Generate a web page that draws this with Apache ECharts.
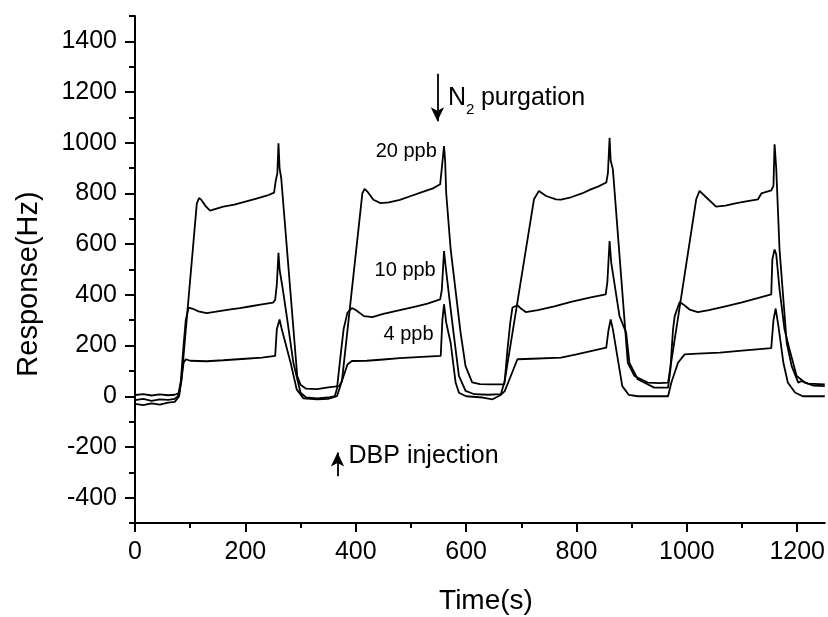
<!DOCTYPE html>
<html>
<head>
<meta charset="utf-8">
<script src="https://cdn.jsdelivr.net/npm/echarts@6/dist/echarts.min.js"></script>
<style>
html,body{margin:0;padding:0;background:#fff;}
#chart{width:828px;height:617px;}
</style>
</head>
<body>
<div id="chart"></div>
<script>
// ---- data (time s, response Hz) ----
const ppb20 = [[0,5],[15,8],[30,3],[45,7],[60,4],[72,6],[80,12],[84,60],[112,760],[116,782],[120,775],[128,750],[136,732],[145,738],[160,748],[180,756],[200,768],[220,780],[240,792],[252,803],[255,850],[258,880],[260,998],[262,900],[265,860],[294,80],[300,45],[310,30],[330,28],[350,35],[370,40],[375,60],[412,800],[416,818],[422,805],[432,775],[445,762],[460,765],[480,775],[500,790],[520,805],[540,820],[553,836],[556,900],[560,987],[562,930],[564,800],[572,580],[590,251],[599,119],[611,55],[625,48],[645,47],[669,47],[723,777],[732,810],[745,790],[763,777],[772,776],[790,785],[810,800],[826,816],[840,828],[854,843],[857,880],[860,1020],[862,930],[866,895],[893,132],[905,80],[929,54],[950,52],[966,54],[1017,777],[1023,810],[1035,785],[1053,748],[1070,752],[1090,762],[1110,770],[1129,777],[1135,800],[1153,812],[1157,830],[1159,994],[1162,900],[1168,579],[1181,211],[1190,119],[1202,54],[1208,60],[1220,50],[1250,47]];
const ppb10 = [[0,-15],[15,-10],[30,-18],[45,-12],[60,-14],[72,-10],[78,0],[83,60],[88,200],[92,300],[97,350],[105,345],[115,335],[130,328],[150,335],[170,342],[190,348],[210,355],[230,362],[250,369],[254,380],[257,440],[260,566],[262,500],[268,420],[275,316],[287,132],[300,14],[310,-5],[330,-8],[350,-5],[362,0],[366,30],[372,150],[378,264],[385,330],[393,348],[400,340],[415,316],[430,312],[450,325],[470,335],[490,345],[510,355],[530,365],[553,382],[556,420],[560,573],[563,510],[570,380],[578,237],[587,80],[599,21],[615,8],[640,6],[663,8],[670,60],[675,185],[680,290],[684,350],[693,359],[700,345],[708,332],[730,340],[760,355],[790,372],[826,390],[853,402],[856,450],[860,612],[863,527],[878,316],[890,251],[896,132],[911,67],[941,34],[966,34],[970,100],[975,264],[978,316],[987,372],[995,360],[1005,342],[1020,332],[1040,340],[1070,355],[1100,370],[1130,388],[1153,402],[1155,540],[1159,579],[1162,560],[1168,422],[1177,264],[1186,185],[1199,80],[1214,54],[1230,42],[1250,40]];
const ppb4 = [[0,-30],[15,-35],[30,-28],[45,-33],[60,-25],[72,-22],[80,0],[85,80],[88,132],[92,146],[100,140],[130,138],[160,142],[200,148],[230,152],[254,159],[257,264],[262,303],[266,264],[282,132],[293,27],[305,-8],[330,-12],[350,-10],[366,0],[375,60],[385,125],[393,139],[420,140],[450,145],[480,150],[520,155],[554,159],[557,300],[560,363],[564,290],[572,211],[581,54],[587,14],[600,0],[630,-5],[648,-12],[663,5],[670,20],[681,80],[693,146],[720,148],[772,152],[800,165],[830,180],[854,192],[858,260],[862,303],[866,264],[878,106],[883,40],[895,5],[911,0],[940,0],[966,0],[972,54],[984,132],[996,165],[1020,168],[1060,172],[1100,180],[1153,190],[1157,300],[1161,346],[1166,277],[1175,132],[1183,54],[1196,15],[1210,0],[1250,0]];

const xMajorTicks = [0,200,400,600,800,1000,1200];
const xMinorTicks = [100,300,500,700,900,1100];
const yMajorTicks = [-400,-200,0,200,400,600,800,1000,1200,1400];
const yMinorTicks = [-500,-300,-100,100,300,500,700,900,1100,1300,1500];

// annotation anchors in data coordinates
const seriesLabels = ['20 ppb','10 ppb','4 ppb'];
const seriesLabelAt = [[547,966],[545,497],[541,244]];
const purgeArrow = [[548,1272],[548,1085]];
const injectArrow = [[367,-316],[367,-222]];
const purgeTextAt = [567,1175];
const injectTextAt = [387,-237];

const FONT = '"Liberation Sans", Arial, sans-serif';
const chart = echarts.init(document.getElementById('chart'), null, {renderer:'canvas'});

const axisLineStyle = {lineStyle:{color:'#000', width:2}};
const plain = v => String(v);
function lineSeries(name, data){
  return {name, type:'line', data, showSymbol:false, symbol:'none', smooth:false,
    lineStyle:{color:'#000', width:1.8}, animation:false, z:3};
}

const s20 = lineSeries('20 ppb', ppb20);
s20.markLine = {
  silent:true, animation:false, symbol:['none','arrow'], symbolSize:[10,14],
  label:{show:false}, lineStyle:{color:'#000', width:1.8, type:'solid'},
  data:[
    [{coord:purgeArrow[0]},{coord:purgeArrow[1]}],
    [{coord:injectArrow[0]},{coord:injectArrow[1]}]
  ]
};

chart.setOption({
  backgroundColor:'#fff',
  animation:false,
  grid:{left:135, right:3, top:16, bottom:94, containLabel:false},
  xAxis:[
    {type:'value', min:0, max:1250, position:'bottom',
      axisLine:{show:true, onZero:false, ...axisLineStyle},
      axisTick:{show:true, inside:false, length:9, customValues:xMajorTicks, lineStyle:{color:'#000', width:2}},
      axisLabel:{show:true, customValues:xMajorTicks, formatter:plain, margin:17, color:'#000', fontSize:25, fontFamily:FONT},
      splitLine:{show:false}},
    {type:'value', min:0, max:1250, position:'bottom', gridIndex:0,
      axisLine:{show:false, onZero:false},
      axisTick:{show:true, inside:false, length:5, customValues:xMinorTicks, lineStyle:{color:'#000', width:2}},
      axisLabel:{show:false}, splitLine:{show:false}}
  ],
  yAxis:[
    {type:'value', min:-500, max:1500, position:'left',
      axisLine:{show:true, onZero:false, ...axisLineStyle},
      axisTick:{show:true, inside:false, length:10, customValues:yMajorTicks, lineStyle:{color:'#000', width:2}},
      axisLabel:{show:true, customValues:yMajorTicks, formatter:plain, margin:18, color:'#000', fontSize:25, fontFamily:FONT},
      splitLine:{show:false}},
    {type:'value', min:-500, max:1500, position:'left', gridIndex:0,
      axisLine:{show:false, onZero:false},
      axisTick:{show:true, inside:false, length:6, customValues:yMinorTicks, lineStyle:{color:'#000', width:2}},
      axisLabel:{show:false}, splitLine:{show:false}}
  ],
  series:[s20, lineSeries('10 ppb', ppb10), lineSeries('4 ppb', ppb4)]
});

function px(pt){ return chart.convertToPixel({xAxisIndex:0, yAxisIndex:0}, pt); }

const graphics = [];
seriesLabels.forEach((t,i)=>{
  const p = px(seriesLabelAt[i]);
  graphics.push({type:'text', x:p[0], y:p[1], silent:true,
    style:{text:t, fill:'#000', font:'20px '+FONT, textAlign:'right', textVerticalAlign:'middle'}});
});
const pp = px(purgeTextAt);
graphics.push({type:'text', x:pp[0], y:pp[1], silent:true,
  style:{text:'N', fill:'#000', font:'25px '+FONT, textAlign:'left', textVerticalAlign:'middle'}});
graphics.push({type:'text', x:pp[0]+18, y:pp[1]+11, silent:true,
  style:{text:'2', fill:'#000', font:'15px '+FONT, textAlign:'left', textVerticalAlign:'middle'}});
graphics.push({type:'text', x:pp[0]+33, y:pp[1], silent:true,
  style:{text:'purgation', fill:'#000', font:'25px '+FONT, textAlign:'left', textVerticalAlign:'middle'}});
const ip = px(injectTextAt);
graphics.push({type:'text', x:ip[0], y:ip[1], silent:true,
  style:{text:'DBP injection', fill:'#000', font:'25px '+FONT, textAlign:'left', textVerticalAlign:'middle'}});
// axis titles
graphics.push({type:'text', x:486, y:601, silent:true,
  style:{text:'Time(s)', fill:'#000', font:'28px '+FONT, textAlign:'center', textVerticalAlign:'middle'}});
graphics.push({type:'text', x:29, y:284, rotation:Math.PI/2, silent:true,
  style:{text:'Response(Hz)', fill:'#000', font:'29px '+FONT, textAlign:'center', textVerticalAlign:'middle'}});

chart.setOption({graphic:{elements:graphics}});
</script>
</body>
</html>
